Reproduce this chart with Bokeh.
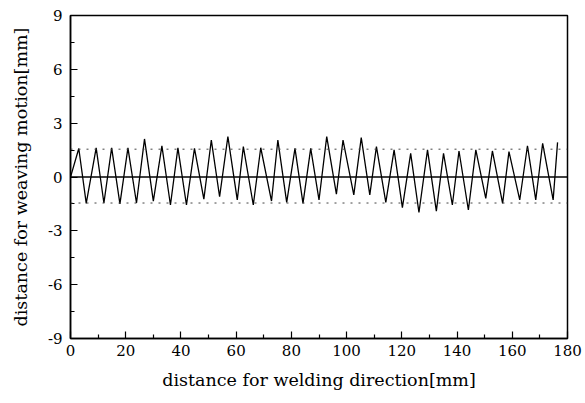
from bokeh.plotting import figure
from bokeh.models import FixedTicker, Range1d, Span
from bokeh.embed import file_html
from bokeh.resources import INLINE

# weaving trajectory (turning points)
dist_welding = [0.0, 3.0, 5.7, 9.3, 12.1, 14.9, 17.9, 20.8, 23.9, 26.8, 30.0, 33.1,
                36.2, 38.9, 42.0, 44.9, 48.3, 51.0, 54.0, 57.0, 60.4, 62.6, 66.2,
                68.9, 72.8, 75.1, 78.3, 81.3, 84.2, 87.0, 90.0, 92.8, 96.3, 98.7,
                102.6, 105.3, 108.4, 110.8, 114.2, 117.2, 120.2, 123.2, 126.2,
                129.3, 132.5, 135.1, 138.3, 140.7, 144.1, 146.8, 150.4, 152.8,
                156.5, 158.8, 162.7, 165.5, 168.5, 171.0, 174.8, 176.4]
dist_weaving = [0.0, 1.59, -1.47, 1.62, -1.45, 1.62, -1.50, 1.62, -1.45, 2.12, -1.34,
                1.73, -1.56, 1.62, -1.56, 1.60, -1.23, 2.06, -1.10, 2.25, -1.28,
                1.69, -1.56, 1.63, -1.34, 2.06, -1.41, 1.60, -1.47, 1.60, -1.28,
                2.25, -0.96, 2.06, -1.00, 2.19, -1.00, 1.69, -1.41, 1.51, -1.71,
                1.32, -1.98, 1.51, -1.90, 1.32, -1.56, 1.45, -1.84, 1.51, -1.19,
                1.45, -1.47, 1.41, -1.28, 1.74, -1.28, 1.88, -1.28, 1.93]

upper_limit = 1.55
lower_limit = -1.45

x_ticks = [0, 20, 40, 60, 80, 100, 120, 140, 160, 180]
x_minor = [10, 30, 50, 70, 90, 110, 130, 150, 170]
y_ticks = [-9, -6, -3, 0, 3, 6, 9]
y_minor = [-7.5, -4.5, -1.5, 1.5, 4.5, 7.5]

FONT = "DejaVu Serif"

p = figure(width=585, height=403, output_backend="svg", toolbar_location=None,
           x_range=Range1d(0, 180), y_range=Range1d(-9, 9),
           min_border_left=70, min_border_right=18, min_border_top=15,
           min_border_bottom=65)

p.xgrid.visible = False
p.ygrid.visible = False
p.outline_line_color = "black"
p.outline_line_width = 1.5

for ax, ticks, minor in ((p.xaxis[0], x_ticks, x_minor), (p.yaxis[0], y_ticks, y_minor)):
    ax.ticker = FixedTicker(ticks=ticks, minor_ticks=minor)
    ax.major_label_overrides = {t: str(t) for t in ticks}
    ax.major_tick_in = 7
    ax.major_tick_out = 0
    ax.minor_tick_in = 4
    ax.minor_tick_out = 0
    ax.axis_line_width = 1.5
    ax.major_tick_line_width = 1.2
    ax.minor_tick_line_width = 1.2
    ax.major_label_text_font = FONT
    ax.major_label_text_font_size = "15px"
    ax.major_label_text_color = "black"
    ax.axis_label_text_font = FONT
    ax.axis_label_text_font_size = "17.5px"
    ax.axis_label_text_font_style = "normal"
    ax.axis_label_text_color = "black"

p.xaxis.axis_label = "distance for welding direction[mm]"
p.yaxis.axis_label = "distance for weaving motion[mm]"
p.xaxis.major_label_standoff = 6
p.xaxis.axis_label_standoff = 11
p.yaxis.major_label_standoff = 8
p.yaxis.axis_label_standoff = 14

p.add_layout(Span(location=0, dimension="width", line_color="black", line_width=1.5))
p.add_layout(Span(location=upper_limit, dimension="width", line_color="#444444",
                  line_width=1, line_dash="2 6"))
p.add_layout(Span(location=lower_limit, dimension="width", line_color="#444444",
                  line_width=1, line_dash="2 6"))

p.line(dist_welding, dist_weaving, line_color="black", line_width=1.3)

open("out.html", "w").write(file_html(p, INLINE))
